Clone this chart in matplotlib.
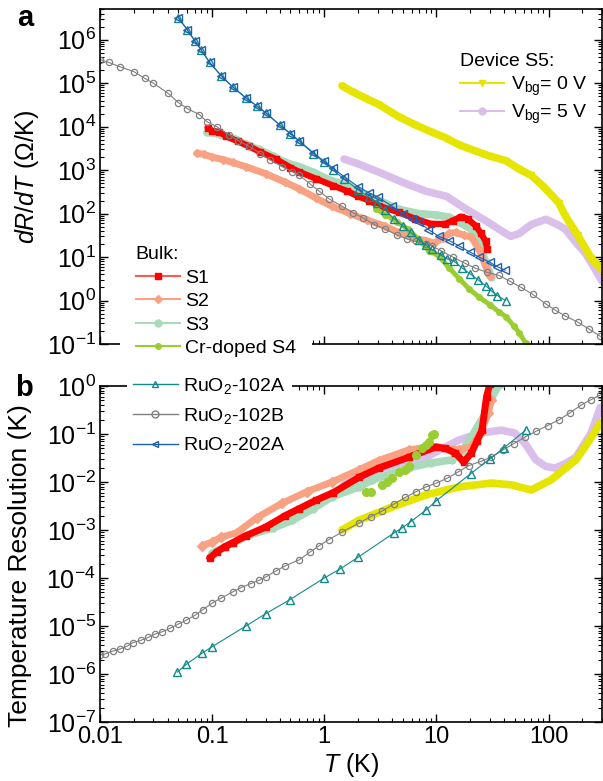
import numpy as np
import matplotlib
matplotlib.use('Agg')
import matplotlib.pyplot as plt
from matplotlib import ticker
from matplotlib.lines import Line2D

plt.rcParams['font.family'] = ['Liberation Sans', 'DejaVu Sans']
plt.rcParams['mathtext.fontset'] = 'custom'
plt.rcParams['mathtext.rm'] = 'Liberation Sans'
plt.rcParams['mathtext.it'] = 'Liberation Sans:italic'
plt.rcParams['mathtext.bf'] = 'Liberation Sans:bold'

# ---- panel a: dR/dT (Ohm/K) ----
t_202a_a = [0.05, 0.06, 0.07, 0.08, 0.095, 0.12, 0.152, 0.2, 0.25, 0.3, 0.4, 0.5, 0.6, 0.8, 1.0, 1.2, 1.5,
            2.0, 2.5, 3.0, 4.0, 5.0, 6.0, 7.0, 8.5, 10.5, 13, 16, 20, 24, 30, 35, 41]
r_202a_a = [3.2e6, 1.7e6, 9.5e5, 5.8e5, 3.0e5, 1.5e5, 8.3e4, 4.6e4, 3.0e4, 2.1e4, 1.1e4, 6.9e3, 4.7e3, 2.5e3,
            1.6e3, 1.1e3, 710, 420, 300, 240, 150, 100, 76, 63, 43, 30, 24, 18, 13, 10, 7.6, 6.0, 5.0]

t_102a_a = [0.05, 0.06, 0.07, 0.08, 0.095, 0.12, 0.152, 0.2, 0.25, 0.3, 0.4, 0.5, 0.6, 0.8, 1.0, 1.2, 1.5,
            2.0, 2.5, 2.95, 3.5, 4.2, 5.0, 5.9, 7.0, 8.0, 9.1, 11, 12.5, 14.3, 17, 20, 23.5, 27.5, 31, 35, 41.5]
r_102a_a = [3.2e6, 1.7e6, 9.5e5, 5.8e5, 3.0e5, 1.5e5, 8.3e4, 4.6e4, 3.0e4, 2.1e4, 1.1e4, 6.8e3, 4.6e3, 2.4e3,
            1.5e3, 1.0e3, 630, 355, 240, 180, 120, 76, 52, 37, 25, 19, 15, 11, 9.1, 8.1, 5.6, 4.1, 3.0, 2.2,
            1.66, 1.3, 1.0]

t_102b_a = [0.01, 0.012, 0.015, 0.02, 0.025, 0.03, 0.04, 0.05, 0.06, 0.077, 0.09, 0.11, 0.14, 0.17, 0.215,
            0.27, 0.33, 0.42, 0.52, 0.6, 0.75, 0.9, 1.1, 1.44, 1.8, 2.2, 2.8, 3.5, 4.5, 5.5, 6.6, 8, 9.1, 11,
            14, 18, 22, 28, 36, 45, 57, 72, 95, 115, 141, 182, 230, 290]
r_102b_a = [3.5e5, 3.0e5, 2.4e5, 1.85e5, 1.3e5, 1.0e5, 6.0e4, 3.6e4, 2.6e4, 1.9e4, 1.3e4, 1.0e4, 6.6e3, 4.8e3,
            3.5e3, 2.4e3, 1.7e3, 1.2e3, 930, 760, 480, 330, 220, 148, 105, 80, 56, 44, 32, 26, 23, 20, 18, 14,
            10, 7.2, 5.6, 4.5, 3.8, 2.8, 2.0, 1.4, 0.83, 0.6, 0.44, 0.32, 0.22, 0.15]

t_s1_a = [0.091, 0.10, 0.115, 0.134, 0.17, 0.215, 0.27, 0.37, 0.5, 0.6, 0.85, 1.2, 1.6, 2.0, 2.5, 3.1, 4.6,
          6.5, 9.0, 12, 14, 16.5, 19, 22.5, 25, 27.5, 28.5]
r_s1_a = [9.5e3, 8.0e3, 7.6e3, 6.0e3, 4.6e3, 3.5e3, 2.6e3, 1.8e3, 1.15e3, 910, 630, 440, 330, 250, 200, 150,
          107, 76, 58, 58, 69, 85, 76, 52, 35, 23, 15]

t_s2_a = [0.073, 0.085, 0.1, 0.125, 0.152, 0.2, 0.3, 0.45, 0.6, 0.85, 1.17, 1.7, 2.4, 3.5, 4.5, 6, 8, 9.5,
          11.5, 13, 15, 17.5, 20.5, 24, 27.5, 30]
r_s2_a = [2.45e3, 2.3e3, 2.0e3, 1.75e3, 1.5e3, 1.2e3, 830, 525, 370, 225, 148, 100, 71, 51, 38, 28, 24, 21,
          28, 35, 37, 32, 29, 15, 6.2, 3.6]

t_s3_a = [0.09, 0.12, 0.16, 0.2, 0.26, 0.35, 0.45, 0.6, 0.8, 1.1, 1.67, 2.3, 3.1, 4.6, 7, 10, 12.9, 16,
          20.5, 24, 27.5, 31]
r_s3_a = [7.4e3, 6.6e3, 5.2e3, 3.9e3, 3.0e3, 2.1e3, 1.5e3, 1.2e3, 890, 600, 430, 280, 200, 126, 100, 93, 83,
          63, 44, 22, 7.6, 3.5]

t_s4_a = [2.9, 3.5, 4.5, 5.6, 7, 8.6, 10.5, 13, 16, 19.5, 24, 30, 36, 42, 49, 55, 62.5]
r_s4_a = [126, 95, 63, 44, 25, 14, 10.5, 5.6, 3.2, 1.86, 1.2, 0.8, 0.55, 0.42, 0.26, 0.18, 0.105]

t_v0_a = [1.44, 1.8, 2.3, 3.1, 4.6, 6.5, 9, 12, 16, 22, 30, 41.5, 55, 70, 90, 123, 141, 182, 240, 300]
r_v0_a = [8.7e4, 6.3e4, 4.6e4, 3.2e4, 1.7e4, 1.1e4, 7.6e3, 5.6e3, 3.8e3, 2.8e3, 2.1e3, 1.66e3, 1.05e3, 760,
          420, 180, 89, 32, 9.5, 5.2]

t_v5_a = [1.5, 2.0, 3.1, 5, 8, 12.3, 18, 29, 40, 46, 55, 70, 95, 120, 141, 180, 210, 250, 300]
r_v5_a = [1.8e3, 1.4e3, 890, 525, 330, 250, 132, 63, 37, 30, 35, 56, 74, 56, 44, 20, 13, 6.3, 2.8]

# ---- panel b: temperature resolution (K) ----
t_102a_b = [0.049, 0.059, 0.081, 0.1, 0.2, 0.3, 0.49, 1.0, 1.39, 2.0, 4.19, 4.93, 5.93, 8.07, 9.9, 20.3,
            29.9, 39.8, 62.5]
d_102a_b = [1.1e-6, 1.6e-6, 2.7e-6, 3.7e-6, 1.0e-5, 1.8e-5, 3.5e-5, 1.0e-4, 1.55e-4, 2.7e-4, 8.7e-4, 1.1e-3,
            1.5e-3, 2.6e-3, 4.0e-3, 1.5e-2, 3.0e-2, 5.1e-2, 0.12]

t_102b_b = [0.01, 0.011, 0.013, 0.015, 0.0175, 0.0196, 0.023, 0.027, 0.031, 0.036, 0.042, 0.05, 0.059, 0.07,
            0.083, 0.1, 0.12, 0.152, 0.18, 0.22, 0.26, 0.3, 0.37, 0.45, 0.6, 0.75, 0.9, 1.1, 1.44, 2.05, 2.6,
            3.3, 4.2, 5.3, 6.6, 8.07, 10, 12.5, 15.5, 19.5, 25, 31, 39, 49, 62, 78, 98, 123, 155, 195, 240, 290]
d_102b_b = [2.5e-6, 2.6e-6, 3.0e-6, 3.3e-6, 3.8e-6, 4.5e-6, 5.0e-6, 5.8e-6, 6.8e-6, 7.6e-6, 8.9e-6, 1.1e-5,
            1.33e-5, 1.66e-5, 2.2e-5, 3.0e-5, 3.8e-5, 5.1e-5, 6.3e-5, 7.6e-5, 8.9e-5, 1.05e-4, 1.4e-4, 1.8e-4,
            2.4e-4, 3.5e-4, 4.7e-4, 6.3e-4, 9.1e-4, 1.4e-3, 1.9e-3, 2.5e-3, 3.5e-3, 4.8e-3, 6.3e-3, 7.9e-3,
            9.5e-3, 1.2e-2, 1.6e-2, 2.2e-2, 2.7e-2, 3.3e-2, 4.6e-2, 6.3e-2, 8.7e-2, 0.115, 0.15, 0.195, 0.275,
            0.4, 0.52, 0.65]

t_s1_b = [0.095, 0.11, 0.13, 0.152, 0.2, 0.3, 0.45, 0.6, 0.85, 1.2, 2.05, 3.05, 5.7, 9.9, 12, 14.8, 17.5,
          20.5, 23, 25.5, 28, 30]
d_s1_b = [2.6e-4, 3.5e-4, 4.5e-4, 5.4e-4, 7.6e-4, 1.15e-3, 2.0e-3, 2.8e-3, 4.2e-3, 6.0e-3, 1.26e-2, 1.95e-2,
          3.3e-2, 5.4e-2, 5.0e-2, 4.0e-2, 2.6e-2, 4.0e-2, 7.1e-2, 0.12, 0.59, 1.12]

t_s2_b = [0.082, 0.1, 0.12, 0.165, 0.25, 0.42, 0.7, 1.17, 2.05, 3.05, 5.7, 9, 15.9, 20.5, 25, 29, 31]
d_s2_b = [4.7e-4, 5.6e-4, 7.1e-4, 8.7e-4, 1.8e-3, 3.6e-3, 6.3e-3, 1.0e-2, 1.8e-2, 2.8e-2, 4.7e-2, 5.4e-2,
          4.7e-2, 5.4e-2, 0.11, 0.275, 0.51]

t_s3_b = [0.1, 0.13, 0.215, 0.35, 0.52, 0.8, 1.17, 2.05, 2.67, 5.7, 9, 13.8, 17, 20.5, 24, 27.5, 33.6, 38]
d_s3_b = [3.3e-4, 4.4e-4, 7.9e-4, 1.1e-3, 1.6e-3, 2.8e-3, 4.9e-3, 7.9e-3, 1.1e-2, 2.0e-2, 2.5e-2, 2.9e-2,
          4.5e-2, 8.7e-2, 0.16, 0.275, 0.83, 1.12]

t_s4_b = [2.36, 2.6, 3.3, 3.6, 4.0, 4.6, 5.2, 5.7, 6.6, 7.4, 8.0, 8.6, 9.1, 9.6]
d_s4_b = [6.2e-3, 6.3e-3, 8.7e-3, 1.0e-2, 1.2e-2, 1.6e-2, 1.8e-2, 2.2e-2, 3.6e-2, 5.1e-2, 6.0e-2, 6.8e-2,
          9.5e-2, 0.1]

t_v0_b = [1.44, 2.05, 4.0, 8.1, 15.9, 31, 47, 70, 105, 176, 240, 290]
d_v0_b = [1.0e-3, 1.6e-3, 3.0e-3, 5.4e-3, 7.9e-3, 9.5e-3, 8.7e-3, 6.8e-3, 1.1e-2, 2.9e-2, 8.3e-2, 0.17]

t_v5_b = [1.5, 3, 5, 8.1, 15.9, 25, 38, 50, 62, 77, 95, 115, 140, 176, 240, 290]
d_v5_b = [8.9e-3, 1.8e-2, 2.6e-2, 3.3e-2, 7.5e-2, 0.105, 0.12, 0.105, 6.3e-2, 2.9e-2, 2.1e-2, 1.95e-2,
          2.4e-2, 3.3e-2, 0.105, 0.36]

x_ticks = [0.01, 0.1, 1, 10, 100]

c_red = '#ff0000'
c_salmon = '#f9a283'
c_green = '#a9dbbb'
c_s4 = '#9acd32'
c_yellow = '#e5e500'
c_purple = '#d9bfe9'
c_teal = '#138a8a'
c_gray = '#808080'
c_blue = '#2060b0'

fig = plt.figure(figsize=(6.03, 7.81), dpi=100)
ax_a = fig.add_axes([100 / 603, 1 - 344 / 781, 502 / 603, 335 / 781])
ax_b = fig.add_axes([100 / 603, 1 - 722 / 781, 502 / 603, 336 / 781])

thick = dict(solid_capstyle='round', solid_joinstyle='round')

# panel a
ax_a.plot(t_v5_a, r_v5_a, color=c_purple, lw=5.5, **thick)
ax_a.plot(t_v0_a, r_v0_a, color=c_yellow, lw=5.5, marker='v', ms=4, **thick)
ax_a.plot(t_s3_a, r_s3_a, color=c_green, lw=5.5, marker='o', ms=5, **thick)
ax_a.plot(t_s2_a, r_s2_a, color=c_salmon, lw=5, marker='D', ms=4, **thick)
ax_a.plot(t_s1_a, r_s1_a, color=c_red, lw=4.5, marker='s', ms=4, **thick)
ax_a.plot(t_s4_a, r_s4_a, color=c_s4, lw=3.5, marker='o', ms=4, **thick)
ax_a.plot(t_102b_a, r_102b_a, color=c_gray, lw=0.8, marker='o', ms=4.5, mfc='none', mew=0.9)
ax_a.plot(t_102a_a, r_102a_a, color=c_teal, lw=0.8, marker='^', ms=5.5, mfc='none', mew=1)
ax_a.plot(t_202a_a, r_202a_a, color=c_blue, lw=0.8, marker='<', ms=5.5, mfc='none', mew=1)

# panel b
ax_b.plot(t_v5_b, d_v5_b, color=c_purple, lw=5.5, **thick)
ax_b.plot(t_v0_b, d_v0_b, color=c_yellow, lw=5.5, marker='v', ms=4, **thick)
ax_b.plot(t_s3_b, d_s3_b, color=c_green, lw=5.5, marker='o', ms=5, **thick)
ax_b.plot(t_s2_b, d_s2_b, color=c_salmon, lw=5, marker='D', ms=5, **thick)
ax_b.plot(t_s1_b, d_s1_b, color=c_red, lw=5, marker='s', ms=5, **thick)
ax_b.plot(t_s4_b, d_s4_b, color=c_s4, lw=0, marker='o', ms=5.5)
ax_b.plot(t_102b_b, d_102b_b, color=c_gray, lw=0.8, marker='o', ms=4.5, mfc='none', mew=0.9)
ax_b.plot(t_102a_b, d_102a_b, color=c_teal, lw=0.8, marker='^', ms=5.5, mfc='none', mew=1)

for ax in (ax_a, ax_b):
    ax.set_xscale('log')
    ax.set_yscale('log')
    ax.set_xlim(0.01, 300)
    ax.xaxis.set_major_locator(ticker.FixedLocator(x_ticks))
    ax.xaxis.set_minor_locator(ticker.LogLocator(base=10, subs=np.arange(2, 10), numticks=100))
    ax.yaxis.set_major_locator(ticker.LogLocator(base=10, numticks=20))
    ax.yaxis.set_minor_locator(ticker.LogLocator(base=10, subs=np.arange(2, 10), numticks=100))
    ax.yaxis.set_minor_formatter(ticker.NullFormatter())
    ax.xaxis.set_minor_formatter(ticker.NullFormatter())
    ax.tick_params(which='both', direction='in', top=True, right=True, pad=3)
    ax.tick_params(axis='y', labelsize=18)
    ax.tick_params(axis='x', labelsize=17)
    ax.tick_params(which='major', length=6, width=1)
    ax.tick_params(which='minor', length=3, width=0.8)
    for sp in ax.spines.values():
        sp.set_linewidth(1.2)

ax_a.set_ylim(0.1, 5.1e6)
ax_a.tick_params(labelbottom=False)
ax_b.set_ylim(1e-7, 1)
ax_b.xaxis.set_major_formatter(ticker.FuncFormatter(lambda v, p: f'{v:g}'))

ax_a.set_ylabel('$dR/dT$ (Ω/K)', fontsize=18)
ax_a.yaxis.set_label_coords(-0.118, 0.5)
ax_b.set_ylabel('Temperature Resolution (K)', fontsize=19)
ax_b.yaxis.set_label_coords(-0.135, 0.465)
ax_b.set_xlabel('$T$ (K)', fontsize=18, labelpad=2)

fig.text(17 / 603, 1 - 18 / 781, 'a', fontsize=21, fontweight='bold', va='center')
fig.text(15 / 603, 1 - 388 / 781, 'b', fontsize=21, fontweight='bold', va='center')

leg_kw = dict(frameon=True, framealpha=1, facecolor='white', edgecolor='none', fancybox=False,
              fontsize=14, handlelength=2.3, borderaxespad=0)

bulk_handles = [
    Line2D([], [], color='#ff5a5a', lw=1.5, marker='s', ms=5, mec=c_red, mfc=c_red),
    Line2D([], [], color=c_salmon, lw=1.5, marker='D', ms=4),
    Line2D([], [], color=c_green, lw=1.5, marker='o', ms=5),
    Line2D([], [], color=c_s4, lw=1.5, marker='o', ms=4),
]
leg1 = ax_a.legend(bulk_handles, ['S1', 'S2', 'S3', 'Cr-doped S4'], title='Bulk:', title_fontsize=14,
                   loc='upper left', bbox_to_anchor=(0.04, 0.338), labelspacing=0.3, borderpad=0.8,
                   handletextpad=0.25, alignment='left', **leg_kw)
ax_a.add_artist(leg1)

dev_handles = [
    Line2D([], [], color=c_yellow, lw=1.5, marker='v', ms=5),
    Line2D([], [], color=c_purple, lw=1.5, marker='o', ms=5),
]
ax_a.legend(dev_handles, ['V$_{\\mathrm{bg}}$= 0 V', 'V$_{\\mathrm{bg}}$= 5 V'], title='Device S5:',
            title_fontsize=14, loc='upper left', bbox_to_anchor=(0.705, 0.886), labelspacing=0.25,
            borderpad=0.3, handletextpad=0.35, alignment='left', **leg_kw)

ru_handles = [
    Line2D([], [], color=c_teal, lw=1, marker='^', ms=5, mfc='none'),
    Line2D([], [], color=c_gray, lw=1, marker='o', ms=5, mfc='none'),
    Line2D([], [], color=c_blue, lw=1, marker='<', ms=5, mfc='none'),
]
ax_b.legend(ru_handles, ['RuO$_2$-102A', 'RuO$_2$-102B', 'RuO$_2$-202A'], loc='upper left',
            bbox_to_anchor=(0.054, 1.047), labelspacing=0.5, borderpad=0.3, handletextpad=0.3, **leg_kw)

fig.savefig('out.png', dpi=100)
